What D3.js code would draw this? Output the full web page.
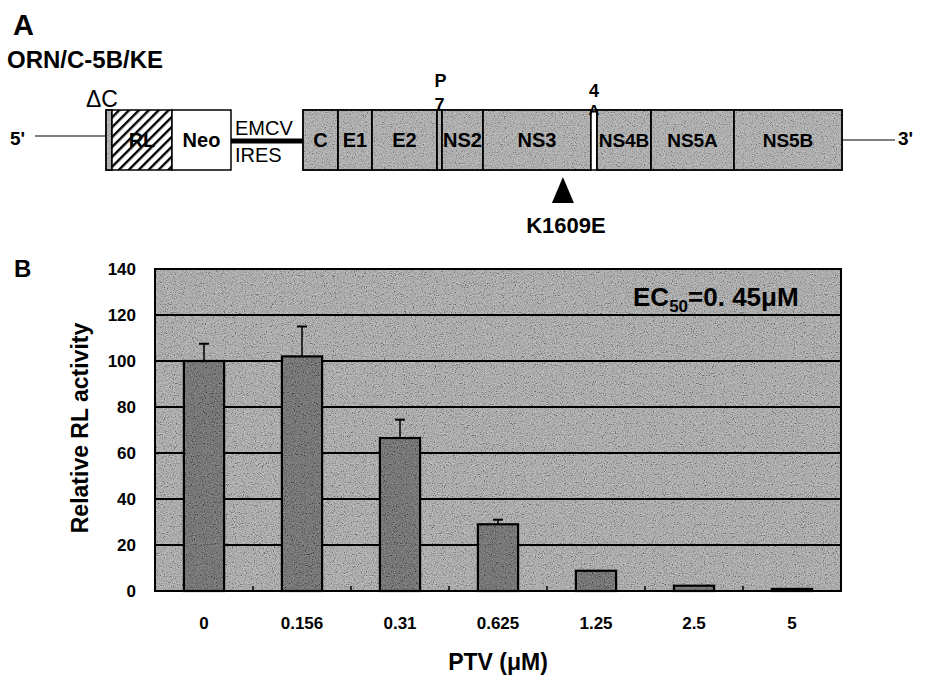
<!DOCTYPE html>
<html>
<head>
<meta charset="utf-8">
<script src="https://cdn.jsdelivr.net/npm/d3@7"></script>
<style>
  html, body { margin: 0; padding: 0; background: #fff; }
  svg { display: block; }
  text { font-family: "Liberation Sans", Arial, Helvetica, sans-serif; fill: #000; }
</style>
</head>
<body>
<svg id="chart" width="926" height="680"></svg>
<script>
// ---------------- DATA ----------------
// Panel A: replicon construct segments (relative lengths)
const segNames   = ["ΔC", "RL", "Neo", "EMCV IRES", "C", "E1", "E2", "p7", "NS2", "NS3", "4A", "NS4B", "NS5A", "NS5B"];
const segLengths = [6, 60, 59, 72, 35, 34, 65, 5, 41, 108, 6, 54, 83, 108];
const segLabels  = ["", "RL", "Neo", "", "C", "E1", "E2", "", "NS2", "NS3", "", "NS4B", "NS5A", "NS5B"];
const mutationName = "K1609E";
const mutationSegment = "NS3";
const mutationFraction = 0.74;

// Panel B: dose-response
const categories = ["0", "0.156", "0.31", "0.625", "1.25", "2.5", "5"];
const values     = [100, 102, 66.5, 29, 8.8, 2.3, 0.9];
const errors     = [7.5, 13, 8, 2, 0, 0, 0];
const yTicks     = [0, 20, 40, 60, 80, 100, 120, 140];

// ---------------- DRAW ----------------
const svg = d3.select("#chart");
const defs = svg.append("defs");

// grain texture (halftone-like speckle)
const f = defs.append("filter").attr("id", "noise").attr("x", 0).attr("y", 0).attr("width", "100%").attr("height", "100%");
f.append("feTurbulence").attr("type", "fractalNoise").attr("baseFrequency", 0.9).attr("numOctaves", 2).attr("seed", 4).attr("result", "t");
f.append("feColorMatrix").attr("in", "t").attr("type", "matrix").attr("result", "g")
  .attr("values", "0.33 0.33 0.33 0 0  0.33 0.33 0.33 0 0  0.33 0.33 0.33 0 0  0 0 0 0 1");
const ct = f.append("feComponentTransfer").attr("in", "g");
["R", "G", "B"].forEach(c => ct.append("feFunc" + c).attr("type", "linear").attr("slope", 3.2).attr("intercept", -1.1));

// hatch for RL
const hatch = defs.append("pattern").attr("id", "hatch").attr("patternUnits", "userSpaceOnUse")
  .attr("width", 7).attr("height", 7).attr("patternTransform", "rotate(45)");
hatch.append("rect").attr("width", 7).attr("height", 7).attr("fill", "#fff");
hatch.append("rect").attr("width", 2.4).attr("height", 7).attr("fill", "#000");

// ---------- Panel A ----------
svg.append("text").attr("x", 13).attr("y", 35).attr("font-size", 29).attr("font-weight", "bold").text("A");
svg.append("text").attr("x", 7).attr("y", 68).attr("font-size", 24).attr("font-weight", "bold").text("ORN/C-5B/KE");

const total = d3.sum(segLengths);
const gx = d3.scaleLinear().domain([0, total]).range([106, 842]);
const starts = segLengths.map((d, i) => d3.sum(segLengths.slice(0, i)));
const segs = segNames.map((n, i) => ({ name: n, label: segLabels[i], x0: gx(starts[i]), x1: gx(starts[i] + segLengths[i]) }));
const boxTop = 110, boxBot = 170;

const gA = svg.append("g");
// 5' line and 3' line
gA.append("line").attr("x1", 35).attr("x2", gx(0)).attr("y1", 136).attr("y2", 136).attr("stroke", "#000").attr("stroke-width", 1.2);
gA.append("line").attr("x1", gx(total)).attr("x2", 895).attr("y1", 140).attr("y2", 140).attr("stroke", "#000").attr("stroke-width", 1.2);
gA.append("text").attr("x", 10).attr("y", 145).attr("font-size", 19).attr("font-weight", "bold").text("5'");
gA.append("text").attr("x", 898).attr("y", 145).attr("font-size", 19).attr("font-weight", "bold").text("3'");

segs.forEach(s => {
  if (s.name === "EMCV IRES") {
    gA.append("line").attr("x1", s.x0).attr("x2", s.x1).attr("y1", 141).attr("y2", 141).attr("stroke", "#000").attr("stroke-width", 5);
    gA.append("text").attr("x", s.x0 + 4).attr("y", 135).attr("font-size", 20).text("EMCV");
    gA.append("text").attr("x", s.x0 + 4).attr("y", 162).attr("font-size", 20).text("IRES");
    return;
  }
  let fill = "#ababab";
  if (s.name === "RL") fill = "url(#hatch)";
  if (s.name === "Neo") fill = "#fff";
  if (s.name === "4A") fill = "#fff";
  gA.append("rect").attr("x", s.x0).attr("y", boxTop).attr("width", s.x1 - s.x0).attr("height", boxBot - boxTop)
    .attr("fill", fill).attr("stroke", "#000").attr("stroke-width", 1.5);
  if (fill === "#ababab") {
    gA.append("rect").attr("x", s.x0).attr("y", boxTop).attr("width", s.x1 - s.x0).attr("height", boxBot - boxTop)
      .attr("fill", "#fff").attr("filter", "url(#noise)").attr("opacity", 0.3);
    gA.append("rect").attr("x", s.x0).attr("y", boxTop).attr("width", s.x1 - s.x0).attr("height", boxBot - boxTop)
      .attr("fill", "none").attr("stroke", "#000").attr("stroke-width", 1.5);
  }
  if (s.label) {
    gA.append("text").attr("x", (s.x0 + s.x1) / 2).attr("y", 147).attr("text-anchor", "middle")
      .attr("font-size", s.label.length > 3 ? 19 : 20).attr("font-weight", "bold").text(s.label);
  }
});
// small labels
const p7 = segs.find(s => s.name === "p7"), a4 = segs.find(s => s.name === "4A"), dC = segs.find(s => s.name === "ΔC");
gA.append("text").attr("x", (p7.x0 + p7.x1) / 2 + 1).attr("y", 87).attr("text-anchor", "middle").attr("font-size", 18).attr("font-weight", "bold").text("P");
gA.append("text").attr("x", (p7.x0 + p7.x1) / 2).attr("y", 111).attr("text-anchor", "middle").attr("font-size", 18).attr("font-weight", "bold").text("7");
gA.append("text").attr("x", (a4.x0 + a4.x1) / 2).attr("y", 97).attr("text-anchor", "middle").attr("font-size", 18).attr("font-weight", "bold").text("4");
gA.append("text").attr("x", (a4.x0 + a4.x1) / 2).attr("y", 115).attr("text-anchor", "middle").attr("font-size", 15).attr("font-weight", "bold").text("A");
gA.append("text").attr("x", dC.x0 - 20).attr("y", 107).attr("font-size", 23).text("ΔC");

// mutation marker
const ms = segs.find(s => s.name === mutationSegment);
const mx = ms.x0 + (ms.x1 - ms.x0) * mutationFraction;
gA.append("path").attr("d", `M${mx},177 L${mx - 11},203 L${mx + 11},203 Z`).attr("fill", "#000");
gA.append("text").attr("x", mx + 3).attr("y", 233).attr("text-anchor", "middle").attr("font-size", 22).attr("font-weight", "bold").text(mutationName);

// ---------- Panel B ----------
svg.append("text").attr("x", 14).attr("y", 277).attr("font-size", 24).attr("font-weight", "bold").text("B");

const L = 155, R = 841, T = 269, B = 591;
const x = d3.scaleBand().domain(categories).range([L, R]).paddingInner(0.59).paddingOuter(0.295);
const y = d3.scaleLinear().domain([0, 140]).range([B, T]);
const g = svg.append("g");

g.append("rect").attr("x", L).attr("y", T).attr("width", R - L).attr("height", B - T).attr("fill", "#a6a6a6");
g.append("rect").attr("x", L).attr("y", T).attr("width", R - L).attr("height", B - T).attr("fill", "#fff")
  .attr("filter", "url(#noise)").attr("opacity", 0.35);

// gridlines
g.selectAll(".grid").data(yTicks.filter(t => t > 0 && t < 140)).join("line")
  .attr("x1", L).attr("x2", R).attr("y1", d => y(d)).attr("y2", d => y(d))
  .attr("stroke", "#000").attr("stroke-width", 2);

// bottom minor ticks at band boundaries
g.selectAll(".mt").data(categories.slice(1)).join("line")
  .attr("x1", d => x(d) - x.step() * x.paddingInner() / 2).attr("x2", d => x(d) - x.step() * x.paddingInner() / 2)
  .attr("y1", B).attr("y2", B - 5).attr("stroke", "#000").attr("stroke-width", 1.5);

// error bars
const data = categories.map((c, i) => ({ c, v: values[i], e: errors[i] }));
const eb = g.selectAll(".eb").data(data.filter(d => d.e > 0)).join("g");
eb.append("line").attr("x1", d => x(d.c) + x.bandwidth() / 2).attr("x2", d => x(d.c) + x.bandwidth() / 2)
  .attr("y1", d => y(d.v)).attr("y2", d => y(d.v + d.e)).attr("stroke", "#000").attr("stroke-width", 1.5);
eb.append("line").attr("x1", d => x(d.c) + x.bandwidth() / 2 - 5).attr("x2", d => x(d.c) + x.bandwidth() / 2 + 5)
  .attr("y1", d => y(d.v + d.e)).attr("y2", d => y(d.v + d.e)).attr("stroke", "#000").attr("stroke-width", 2);

// bars
g.selectAll(".bar").data(data).join("rect")
  .attr("x", d => x(d.c)).attr("width", x.bandwidth())
  .attr("y", d => y(d.v)).attr("height", d => B - y(d.v))
  .attr("fill", "#5c5c5c");
g.selectAll(".barn").data(data).join("rect")
  .attr("x", d => x(d.c)).attr("width", x.bandwidth())
  .attr("y", d => y(d.v)).attr("height", d => B - y(d.v))
  .attr("fill", "#fff").attr("filter", "url(#noise)").attr("opacity", 0.3);
g.selectAll(".barb").data(data).join("rect")
  .attr("x", d => x(d.c)).attr("width", x.bandwidth())
  .attr("y", d => y(d.v)).attr("height", d => B - y(d.v))
  .attr("fill", "none").attr("stroke", "#000").attr("stroke-width", 2.2);

// frame
g.append("rect").attr("x", L).attr("y", T).attr("width", R - L).attr("height", B - T)
  .attr("fill", "none").attr("stroke", "#000").attr("stroke-width", 2);

// y axis
const ya = g.append("g").attr("transform", `translate(${L - 19},0)`)
  .call(d3.axisLeft(y).tickValues(yTicks).tickSize(0).tickPadding(0));
ya.select(".domain").remove();
ya.selectAll("text").attr("font-size", 17).attr("font-weight", "bold")
  .attr("font-family", "'Liberation Sans', Arial, sans-serif").attr("fill", "#000");

// x axis
const xa = g.append("g").attr("transform", `translate(0,${B})`)
  .call(d3.axisBottom(x).tickSize(0).tickPadding(26));
xa.select(".domain").remove();
xa.selectAll("text").attr("font-size", 17).attr("font-weight", "bold")
  .attr("font-family", "'Liberation Sans', Arial, sans-serif").attr("fill", "#000");

// axis titles
svg.append("text").attr("transform", `translate(88,428) rotate(-90)`).attr("text-anchor", "middle")
  .attr("font-size", 23).attr("font-weight", "bold").text("Relative RL activity");
svg.append("text").attr("x", 498).attr("y", 670).attr("text-anchor", "middle")
  .attr("font-size", 23).attr("font-weight", "bold").text("PTV (μM)");

// EC50 annotation
const ec = svg.append("text").attr("x", 633).attr("y", 306).attr("font-size", 26).attr("font-weight", "bold");
ec.append("tspan").text("EC");
ec.append("tspan").attr("font-size", 17).attr("dy", 6).text("50");
ec.append("tspan").attr("dy", -6).text("=0. 45μM");
</script>
</body>
</html>
